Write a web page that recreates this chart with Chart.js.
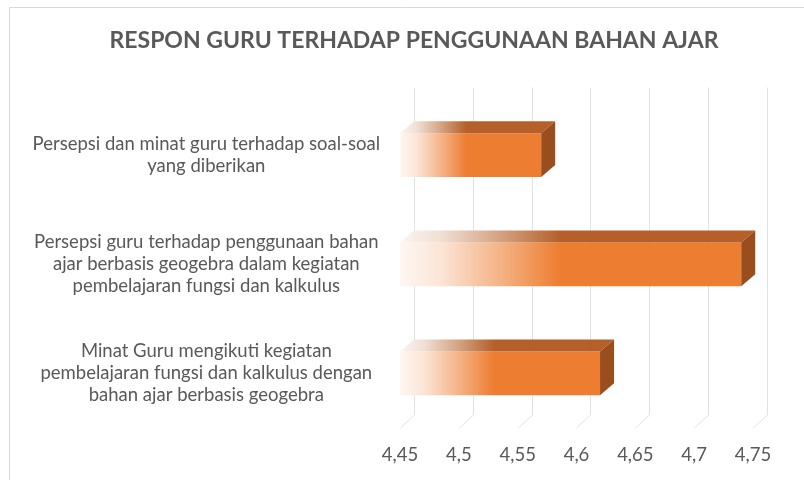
<!DOCTYPE html>
<html>
<head>
<meta charset="utf-8">
<script src="https://cdn.jsdelivr.net/npm/chart.js@4"></script>
<style>
  html, body { margin: 0; padding: 0; background: #fff; }
  #wrap { width: 804px; height: 480px; }
</style>
</head>
<body>
<div id="wrap"><canvas id="chart" width="804" height="480"></canvas></div>
<script>
// data
const categories = [
  ['Persepsi dan minat guru terhadap soal-soal', 'yang diberikan'],
  ['Persepsi guru terhadap penggunaan bahan', 'ajar berbasis geogebra dalam kegiatan', 'pembelajaran fungsi dan kalkulus'],
  ['Minat Guru mengikuti kegiatan', 'pembelajaran fungsi dan kalkulus dengan', 'bahan ajar berbasis geogebra']
];
const values = [4.57, 4.74, 4.62];
const axisMin = 4.45;
const axisMax = 4.75;
const axisStep = 0.05;

const TEXT = '#595959';
const ORANGE = '#ED7D31';
const ORANGE_TOP = '#b5602a';
const ORANGE_SIDE = '#9a4e1d';
const GRID = '#e2e2e2';
const WALL_DX = 14, WALL_DY = 13;
const BAR_DX = 14, BAR_DY = 12;

function fmt(v) {
  return parseFloat(Number(v).toFixed(2)).toString().replace('.', ',');
}

function mix(hex, t) {
  const n = parseInt(hex.slice(1), 16);
  const r = Math.round(255 + (((n >> 16) & 255) - 255) * t);
  const g = Math.round(255 + (((n >> 8) & 255) - 255) * t);
  const b = Math.round(255 + ((n & 255) - 255) * t);
  return `rgb(${r},${g},${b})`;
}

// faded-left gradient along a bar
function barGradient(ctx, x0, x1, color) {
  const g = ctx.createLinearGradient(x0, 0, x1, 0);
  g.addColorStop(0, mix(color, 0.06));
  g.addColorStop(0.12, mix(color, 0.2));
  g.addColorStop(0.3, mix(color, 0.6));
  g.addColorStop(0.47, color);
  g.addColorStop(1, color);
  return g;
}

const frame = {
  id: 'frame',
  beforeDraw(chart) {
    const c = chart.ctx;
    c.save();
    c.fillStyle = '#fff';
    c.fillRect(0, 0, chart.width, chart.height);
    c.strokeStyle = '#d9d9d9';
    c.lineWidth = 1;
    c.beginPath();
    c.moveTo(9.5, chart.height);
    c.lineTo(9.5, 7.5);
    c.lineTo(chart.width, 7.5);
    c.stroke();
    c.restore();
  }
};

// back wall gridlines + floor diagonals
const wallGrid = {
  id: 'wallGrid',
  beforeDatasetsDraw(chart) {
    const c = chart.ctx, x = chart.scales.x, a = chart.chartArea;
    c.save();
    c.strokeStyle = GRID;
    c.lineWidth = 1;
    x.ticks.forEach(t => {
      const px = Math.round(x.getPixelForValue(t.value)) + 0.5;
      c.beginPath();
      c.moveTo(px + WALL_DX, a.top - WALL_DY);
      c.lineTo(px + WALL_DX, a.bottom - WALL_DY);
      c.lineTo(px, a.bottom);
      c.stroke();
    });
    c.restore();
  }
};

// top and end faces of the 3D bars
const barFaces = {
  id: 'barFaces',
  afterDatasetsDraw(chart) {
    const c = chart.ctx;
    const meta = chart.getDatasetMeta(0);
    const x0 = chart.scales.x.getPixelForValue(axisMin);
    c.save();
    meta.data.forEach(bar => {
      const { x, y, height } = bar.getProps(['x', 'y', 'height'], true);
      const top = y - height / 2, bottom = y + height / 2;
      c.fillStyle = barGradient(c, x0, x, ORANGE_TOP);
      c.beginPath();
      c.moveTo(x0, top);
      c.lineTo(x, top);
      c.lineTo(x + BAR_DX, top - BAR_DY);
      c.lineTo(x0 + BAR_DX, top - BAR_DY);
      c.closePath();
      c.fill();
      c.fillStyle = ORANGE_SIDE;
      c.beginPath();
      c.moveTo(x, top);
      c.lineTo(x + BAR_DX, top - BAR_DY);
      c.lineTo(x + BAR_DX, bottom - BAR_DY);
      c.lineTo(x, bottom);
      c.closePath();
      c.fill();
    });
    c.restore();
  }
};

new Chart(document.getElementById('chart'), {
  type: 'bar',
  data: {
    labels: categories,
    datasets: [{
      data: values,
      backgroundColor: (ctx) => {
        const chart = ctx.chart;
        if (!chart.chartArea || ctx.raw === undefined) return ORANGE;
        const x0 = chart.scales.x.getPixelForValue(axisMin);
        const x1 = chart.scales.x.getPixelForValue(ctx.raw);
        return barGradient(chart.ctx, x0, x1, ORANGE);
      },
      borderWidth: 0,
      barPercentage: 0.4,
      categoryPercentage: 1
    }]
  },
  options: {
    indexAxis: 'y',
    responsive: false,
    animation: false,
    layout: { padding: { left: 24, right: 0, top: 0, bottom: 0 } },
    plugins: {
      legend: { display: false },
      tooltip: { enabled: false },
      title: {
        display: true,
        text: 'RESPON GURU TERHADAP PENGGUNAAN BAHAN AJAR',
        color: TEXT,
        font: { family: 'Lato', size: 23, weight: 'bold' },
        padding: { top: 27, bottom: 46 }
      }
    },
    scales: {
      x: {
        min: axisMin,
        max: axisMax,
        ticks: {
          stepSize: axisStep,
          color: TEXT,
          font: { family: 'Lato', size: 18.5 },
          padding: 16,
          callback: (v) => fmt(v)
        },
        grid: { display: false, drawTicks: false },
        border: { display: false },
        afterFit: (axis) => { axis.height = 52; }
      },
      y: {
        ticks: {
          color: TEXT,
          font: { family: 'Lato', size: 18.5, lineHeight: 1.19 },
          crossAlign: 'center',
          padding: 20
        },
        grid: { display: false, drawTicks: false },
        border: { display: false },
        afterFit: (axis) => { axis.width = 376; }
      },
      // empty right-hand gutter (room for the 3D depth)
      yRight: {
        type: 'category',
        position: 'right',
        ticks: { display: false },
        grid: { display: false, drawTicks: false },
        border: { display: false },
        afterFit: (axis) => { axis.width = 51; }
      }
    }
  },
  plugins: [frame, wallGrid, barFaces]
});
</script>
</body>
</html>
